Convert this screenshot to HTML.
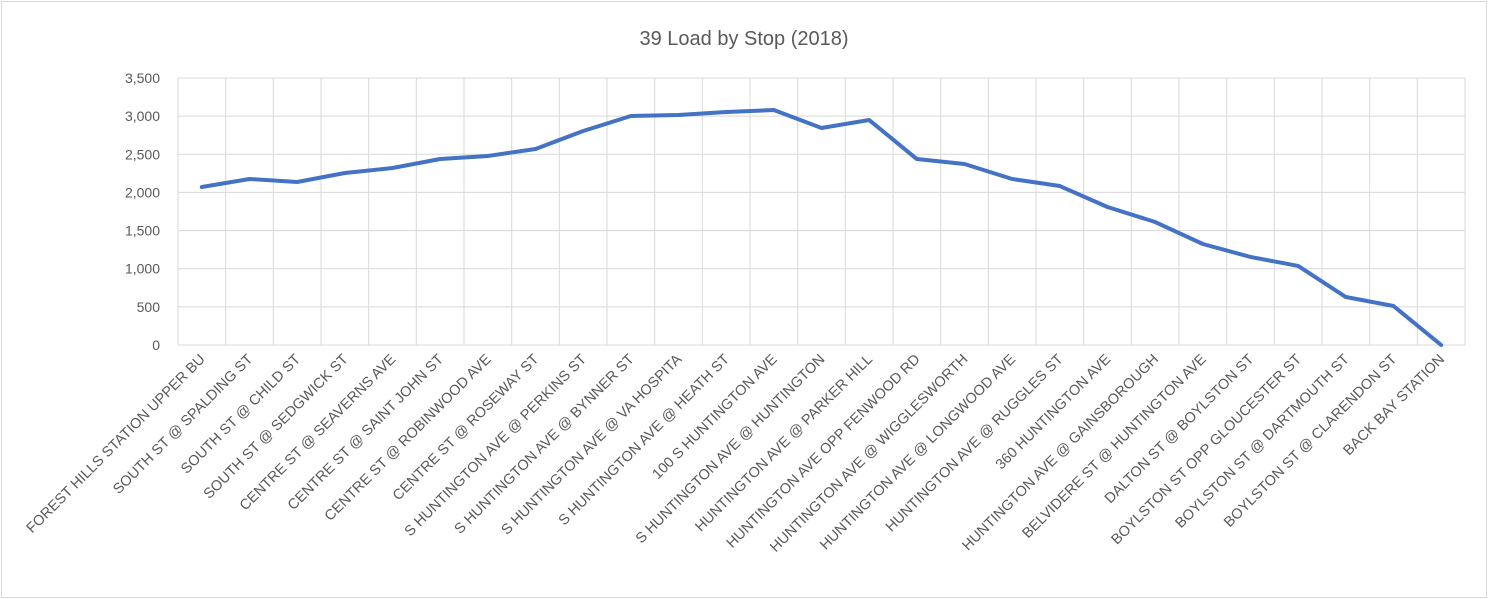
<!DOCTYPE html>
<html><head><meta charset="utf-8"><style>
body{margin:0;background:#fff;}
svg{display:block;font-family:"Liberation Sans",sans-serif;}
</style></head><body>
<svg width="1488" height="599" xmlns="http://www.w3.org/2000/svg">
<rect x="1.5" y="1.5" width="1485" height="596" fill="#fff" stroke="#d9d9d9"/>
<text x="744" y="45" text-anchor="middle" font-size="20" fill="#595959">39 Load by Stop (2018)</text>
<g id="grid" stroke="#d9d9d9" stroke-width="1"></g>
<g id="ylab" font-size="14" fill="#595959" text-anchor="end"></g>
<g id="xlab" font-size="14.5" fill="#595959" text-anchor="end"></g>
<polyline id="line" fill="none" stroke="#4472c4" stroke-width="4" stroke-linejoin="round" stroke-linecap="round"/>
</svg>
<script>
const L=178,R=1465,T=78,B=345,n=27,w=(R-L)/n;
const names=["FOREST HILLS STATION UPPER BU","SOUTH ST @ SPALDING ST","SOUTH ST @ CHILD ST","SOUTH ST @ SEDGWICK ST","CENTRE ST @ SEAVERNS AVE","CENTRE ST @ SAINT JOHN ST","CENTRE ST @ ROBINWOOD AVE","CENTRE ST @ ROSEWAY ST","S HUNTINGTON AVE @ PERKINS ST","S HUNTINGTON AVE @ BYNNER ST","S HUNTINGTON AVE @ VA HOSPITA","S HUNTINGTON AVE @ HEATH ST","100 S HUNTINGTON AVE","S HUNTINGTON AVE @ HUNTINGTON","HUNTINGTON AVE @ PARKER HILL","HUNTINGTON AVE OPP FENWOOD RD","HUNTINGTON AVE @ WIGGLESWORTH","HUNTINGTON AVE @ LONGWOOD AVE","HUNTINGTON AVE @ RUGGLES ST","360 HUNTINGTON AVE","HUNTINGTON AVE @ GAINSBOROUGH","BELVIDERE ST @ HUNTINGTON AVE","DALTON ST @ BOYLSTON ST","BOYLSTON ST OPP GLOUCESTER ST","BOYLSTON ST @ DARTMOUTH ST","BOYLSTON ST @ CLARENDON ST","BACK BAY STATION"];
const v=[2071,2176,2137,2255,2320,2438,2478,2569,2805,3002,3015,3054,3080,2845,2949,2438,2373,2176,2084,1809,1612,1324,1154,1036,629,511,0];
const ns="http://www.w3.org/2000/svg";
const g=document.getElementById("grid"),yl=document.getElementById("ylab"),xl=document.getElementById("xlab");
function el(t,a,p,txt){const e=document.createElementNS(ns,t);for(const k in a)e.setAttribute(k,a[k]);if(txt!=null)e.textContent=txt;p.appendChild(e);}
for(let i=0;i<=7;i++){const y=B-(B-T)*i/7;el("line",{x1:L,x2:R,y1:y,y2:y},g);el("text",{x:160,y:y+5},yl,(i*500).toLocaleString("en-US"));}
for(let i=0;i<=n;i++){const x=L+w*i;el("line",{x1:x,x2:x,y1:T,y2:B},g);}
let pts=[];
for(let i=0;i<n;i++){const x=L+w*(i+0.5);pts.push(x+","+(B-v[i]/3500*(B-T)));
el("text",{x:x+4,y:360,transform:`rotate(-45 ${x+4} 360)`},xl,names[i]);}
document.getElementById("line").setAttribute("points",pts.join(" "));
</script>
</body></html>
